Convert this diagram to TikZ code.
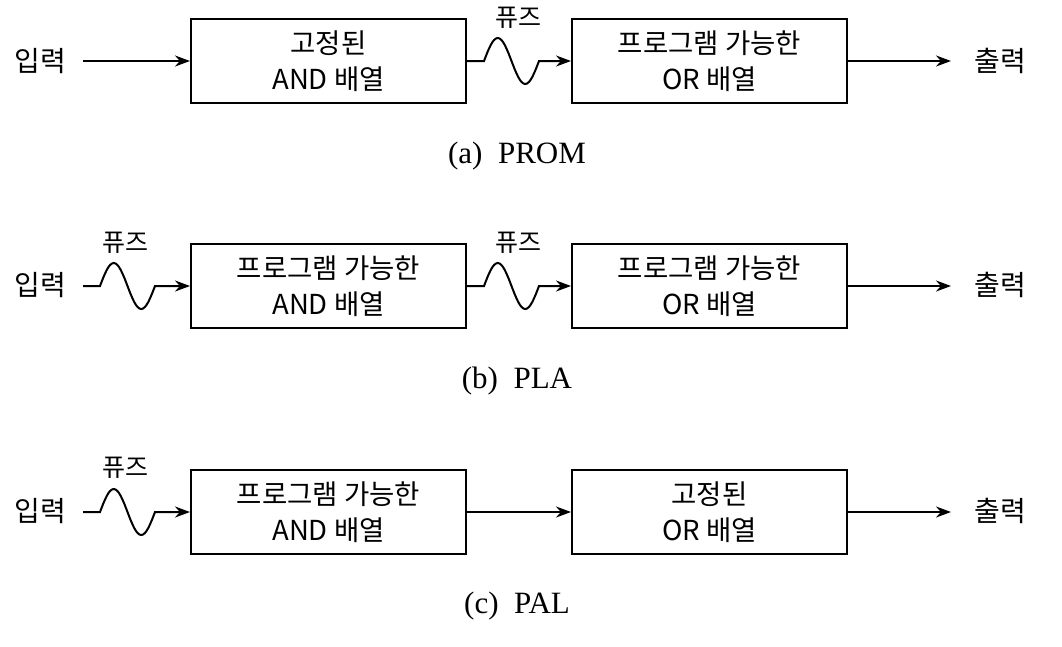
\documentclass[tikz,border=0pt]{standalone}
\usepackage{fontspec}
\setmainfont{Liberation Serif}
\newfontfamily\krfont{Noto Sans CJK KR}
\usetikzlibrary{arrows.meta}
\begin{document}
\begin{tikzpicture}[x=1pt,y=-1pt,
  blk/.style={draw,line width=2pt,minimum width=275pt,minimum height=84pt,inner sep=0pt,align=center,
    font=\krfont\fontsize{27.5}{36}\selectfont},
  lbl/.style={inner sep=0pt,font=\krfont\fontsize{28}{32}\selectfont},
  fuselbl/.style={inner sep=0pt,font=\krfont\fontsize{25}{28}\selectfont},
  captxt/.style={inner sep=0pt,font=\fontsize{31}{36}\selectfont},
  wire/.style={line width=2pt,-{Stealth[length=15pt,width=11pt]}},
]
\useasboundingbox (0,0) rectangle (1062,646);
\fill[white] (0,0) rectangle (1062,646);

% ---------- (a) PROM ----------
\node[blk] (a1) at (328.5,61) {고정된\\AND 배열};
\node[blk] (a2) at (709.5,61) {프로그램 가능한\\OR 배열};
\node[lbl] (ain) at (40,61) {입력};
\node[lbl] (aout) at (1000,61) {출력};
\coordinate (ais) at (83,61);
\coordinate (aoe) at (951,61);
\draw[wire] (ais) -- (a1.west);
\draw[wire] (a1.east) -- ++(17,0) sin ++(13.75,-23) cos ++(13.75,23) sin ++(13.75,23) cos ++(13.75,-23) -- (a2.west);
\node[fuselbl] (af) at (518,18) {퓨즈};
\draw[wire] (a2.east) -- (aoe);
\node[captxt] (acap) at (517,156) {(a)\ \ PROM};

% ---------- (b) PLA ----------
\node[blk] (b1) at (328.5,286) {프로그램 가능한\\AND 배열};
\node[blk] (b2) at (709.5,286) {프로그램 가능한\\OR 배열};
\node[lbl] (bin) at (40,285) {입력};
\node[lbl] (bout) at (1000,285) {출력};
\coordinate (bis) at (83,286);
\coordinate (boe) at (951,286);
\draw[wire] (bis) -- ++(17,0) sin ++(13.75,-23) cos ++(13.75,23) sin ++(13.75,23) cos ++(13.75,-23) -- (b1.west);
\node[fuselbl] (bf1) at (125,243) {퓨즈};
\draw[wire] (b1.east) -- ++(17,0) sin ++(13.75,-23) cos ++(13.75,23) sin ++(13.75,23) cos ++(13.75,-23) -- (b2.west);
\node[fuselbl] (bf2) at (518,243) {퓨즈};
\draw[wire] (b2.east) -- (boe);
\node[captxt] (bcap) at (517,381) {(b)\ \ PLA};

% ---------- (c) PAL ----------
\node[blk] (c1) at (328.5,512) {프로그램 가능한\\AND 배열};
\node[blk] (c2) at (709.5,512) {고정된\\OR 배열};
\node[lbl] (cin) at (40,511) {입력};
\node[lbl] (cout) at (1000,511) {출력};
\coordinate (cis) at (83,512);
\coordinate (coe) at (951,512);
\draw[wire] (cis) -- ++(17,0) sin ++(13.75,-23) cos ++(13.75,23) sin ++(13.75,23) cos ++(13.75,-23) -- (c1.west);
\node[fuselbl] (cf1) at (125,468) {퓨즈};
\draw[wire] (c1.east) -- (c2.west);
\draw[wire] (c2.east) -- (coe);
\node[captxt] (ccap) at (517,606) {(c)\ \ PAL};
\end{tikzpicture}
\end{document}
